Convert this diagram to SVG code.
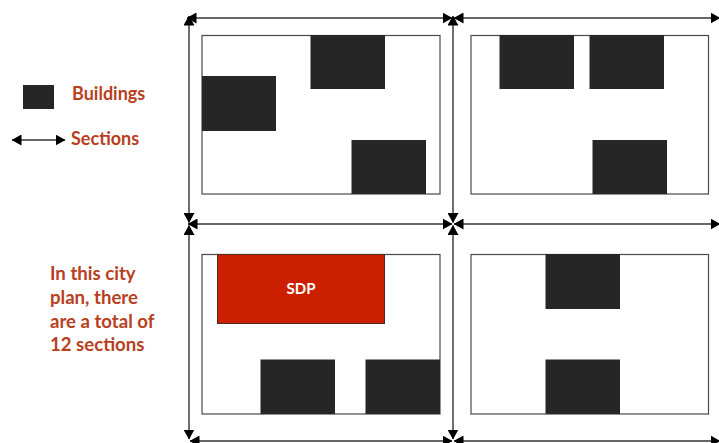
<svg xmlns="http://www.w3.org/2000/svg" width="719" height="443" viewBox="0 0 719 443">
<style>
.b{fill:#262626}
.plan{fill:#fff;stroke:#4a4a4a;stroke-width:1.2}
.c{stroke:#333;stroke-width:1.4;fill:none;marker-start:url(#a);marker-end:url(#a)}
.t{font-family:"Lato","Liberation Sans",sans-serif;font-weight:700;font-size:18px;fill:#b8401e}
.n{font-size:18.6px}
</style>
<defs>
<marker id="a" viewBox="0 0 10 11" refX="9.5" refY="5.500" markerUnits="userSpaceOnUse" markerWidth="10" markerHeight="11" orient="auto-start-reverse"><path d="M0 0L10 5.500L0 11Z" fill="#000"/></marker>
</defs>
<rect width="719" height="443" fill="#fff"/>
<g id="plan-1">
<rect class="plan" x="202" y="35.500" width="238" height="158.500"/>
<rect class="b" x="202" y="76" width="74" height="55"/>
<rect class="b" x="310.500" y="35" width="74.500" height="54"/>
<rect class="b" x="351.500" y="140" width="74.500" height="54"/>
</g>
<g id="plan-2">
<rect class="plan" x="471" y="35.500" width="237.500" height="158.500"/>
<rect class="b" x="499.500" y="35" width="74.500" height="54"/>
<rect class="b" x="589.500" y="35" width="74.500" height="54"/>
<rect class="b" x="592.500" y="140" width="74.500" height="54"/>
</g>
<g id="plan-3">
<rect class="plan" x="202" y="254.500" width="238" height="159.500"/>
<rect x="217.500" y="254.500" width="167" height="69" fill="#cc1f00" stroke="#4a2a20" stroke-width="1"/>
<text x="301" y="293.500" text-anchor="middle" font-family="Lato,'Liberation Sans',sans-serif" font-weight="700" font-size="15" fill="#fff">SDP</text>
<rect class="b" x="260.500" y="359.500" width="74.500" height="54.500"/>
<rect class="b" x="365.500" y="359.500" width="74.500" height="54.500"/>
</g>
<g id="plan-4">
<rect class="plan" x="471" y="254.500" width="237.500" height="159.500"/>
<rect class="b" x="545.500" y="254" width="74.500" height="55"/>
<rect class="b" x="545.500" y="359.500" width="74.500" height="54.500"/>
</g>
<g id="connectors">
<line class="c" x1="187" y1="18" x2="452" y2="18"/>
<line class="c" x1="454" y1="18" x2="720" y2="18"/>
<line class="c" x1="188" y1="224" x2="452" y2="224"/>
<line class="c" x1="454" y1="224" x2="720" y2="224"/>
<line class="c" x1="190" y1="441" x2="452" y2="441"/>
<line class="c" x1="454" y1="441" x2="720" y2="441"/>
<line class="c" x1="189" y1="16" x2="189" y2="222.500"/>
<line class="c" x1="189" y1="225.500" x2="189" y2="439"/>
<line class="c" x1="453" y1="16" x2="453" y2="222.500"/>
<line class="c" x1="453" y1="225.500" x2="453" y2="439"/>
</g>
<g id="legend">
<rect class="b" x="23" y="85" width="31" height="24"/>
<text class="t" x="72" y="100">Buildings</text>
<line class="c" x1="12" y1="140" x2="65" y2="140"/>
<text class="t" x="71" y="145">Sections</text>
</g>
<g id="note">
<text class="t n" x="50" y="280">In this city</text>
<text class="t n" x="50" y="304">plan, there</text>
<text class="t n" x="50" y="327.500">are a total of</text>
<text class="t n" x="50" y="351">12 sections</text>
</g>
</svg>
